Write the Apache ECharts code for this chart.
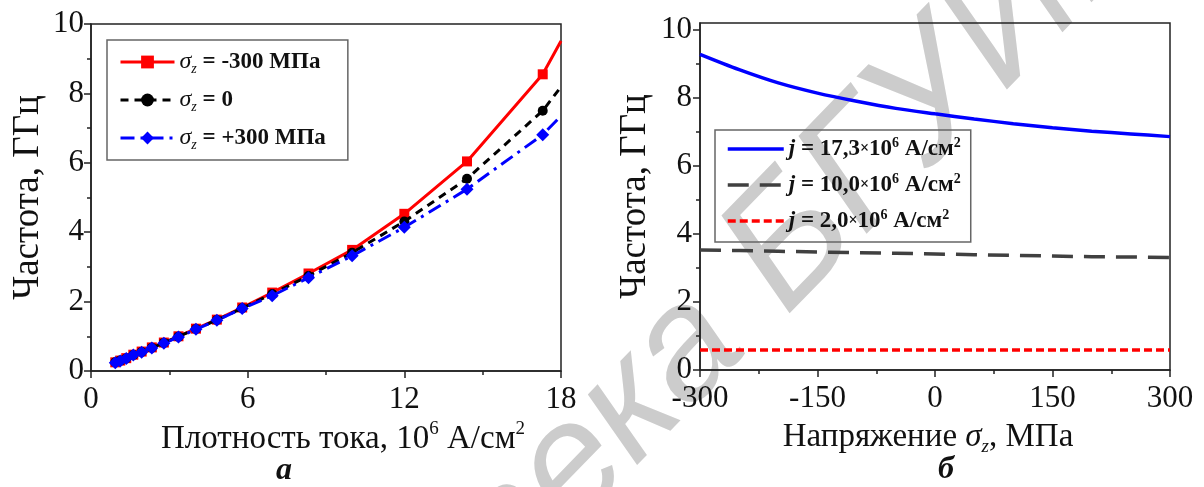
<!DOCTYPE html>
<html>
<head>
<meta charset="utf-8">
<script src="https://cdn.jsdelivr.net/npm/echarts@6/dist/echarts.min.js"></script>
<style>html,body{margin:0;padding:0;background:#fff}#c{width:1204px;height:487px}</style>
</head>
<body>
<div id="c"></div>
<script>
// ---- Panel (a): frequency vs current density ----
const jValues = [0.93, 1.12, 1.35, 1.62, 1.94, 2.33, 2.79, 3.35, 4.02, 4.82, 5.79, 6.94, 8.33, 10.0, 12.0, 14.4, 17.3, 18];
const fMinus300 = [0.25, 0.30, 0.37, 0.47, 0.56, 0.68, 0.82, 1.00, 1.22, 1.48, 1.83, 2.26, 2.81, 3.49, 4.53, 6.04, 8.55, 9.51];
const fZero     = [0.25, 0.30, 0.36, 0.46, 0.55, 0.67, 0.81, 0.99, 1.21, 1.47, 1.81, 2.22, 2.74, 3.41, 4.31, 5.54, 7.50, 8.19];
const fPlus300  = [0.24, 0.29, 0.36, 0.46, 0.54, 0.66, 0.80, 0.98, 1.20, 1.46, 1.80, 2.17, 2.69, 3.32, 4.14, 5.24, 6.81, 7.35];
const namesA = ['σz = -300 МПа', 'σz = 0', 'σz = +300 МПа'];
const legendA = ['-300 МПа', '0', '+300 МПа'];
const xTicksA = [0, 6, 12, 18];

// ---- Panel (б): frequency vs stress ----
const sigmaValues = [-300, -250, -200, -150, -100, -50, 0, 50, 100, 150, 200, 250, 300];
const fJ173 = [9.28, 8.83, 8.44, 8.14, 7.90, 7.69, 7.53, 7.38, 7.24, 7.12, 7.02, 6.94, 6.86];
const fJ100 = [3.53, 3.51, 3.49, 3.47, 3.45, 3.43, 3.41, 3.39, 3.37, 3.35, 3.33, 3.32, 3.31];
const fJ20  = [0.59, 0.59, 0.59, 0.59, 0.59, 0.59, 0.59, 0.59, 0.59, 0.59, 0.59, 0.59, 0.59];
const namesB = ['j = 17,3', 'j = 10,0', 'j = 2,0'];
const legendB = ['17,3', '10,0', '2,0'];
const yTicks = [0, 2, 4, 6, 8, 10];

const SERIF = '"Liberation Serif", "Times New Roman", serif';

function pairs(xs, ys) {
  return xs.map((x, i) => {
    const item = { value: [x, ys[i]] };
    if (x === 18) item.symbol = 'none';
    return item;
  });
}
function pairsPlain(xs, ys) { return xs.map((x, i) => [x, ys[i]]); }

const chart = echarts.init(document.getElementById('c'), null, { renderer: 'canvas' });

const tickLabel = { fontFamily: SERIF, fontSize: 31, color: '#111' };
const axisLine = { onZero: false, lineStyle: { color: '#222', width: 1.5 } };

const legRich = {
  s: { fontFamily: SERIF, fontStyle: 'italic', fontSize: 24, lineHeight: 28, color: '#111' },
  sub: { fontFamily: SERIF, fontStyle: 'italic', fontSize: 14, lineHeight: 28, verticalAlign: 'bottom', padding: [14, 0, 0, 0], color: '#111' },
  b: { fontFamily: SERIF, fontWeight: 'bold', fontSize: 23, lineHeight: 28, color: '#111' },
  j: { fontFamily: SERIF, fontWeight: 'bold', fontStyle: 'italic', fontSize: 23, lineHeight: 26, color: '#111' },
  bb: { fontFamily: SERIF, fontWeight: 'bold', fontSize: 23, lineHeight: 26, color: '#111' },
  x: { fontFamily: SERIF, fontWeight: 'bold', fontSize: 16, lineHeight: 26, color: '#111' },
  sup: { fontFamily: SERIF, fontWeight: 'bold', fontSize: 14, lineHeight: 26, verticalAlign: 'top', padding: [0, 0, 14, 0], color: '#111' }
};

const nameRich = {
  t: { fontFamily: SERIF, fontSize: 33, color: '#111', lineHeight: 38 },
  i: { fontFamily: SERIF, fontStyle: 'italic', fontSize: 33, color: '#111', lineHeight: 38 },
  sub: { fontFamily: SERIF, fontStyle: 'italic', fontSize: 19, color: '#111', lineHeight: 38, verticalAlign: 'bottom', padding: [15, 0, 0, 0] },
  sup: { fontFamily: SERIF, fontSize: 19, color: '#111', lineHeight: 38, verticalAlign: 'top', padding: [0, 0, 15, 0] }
};

const tickStyle = { color: '#222', width: 1.5 };

const option = {
  animation: false,
  backgroundColor: '#fff',
  graphic: [
    { type: 'text', x: 718, y: 318, rotation: 0.8, z: -5, silent: true,
      style: { text: 'Библиотека', font: 'italic 160px "Liberation Sans", sans-serif', fill: '#cccccc', align: 'right', verticalAlign: 'middle' } },
    { type: 'text', x: 752, y: 284, rotation: 0.8, z: -5, silent: true,
      style: { text: 'БГУИР', font: 'italic 170px "Liberation Sans", sans-serif', fill: '#cccccc', align: 'left', verticalAlign: 'middle' } }
  ],
  title: [
    { text: 'a', left: 279, top: 450, textAlign: 'center',
      textStyle: { fontFamily: SERIF, fontStyle: 'italic', fontWeight: 'bold', fontSize: 32, color: '#111' } },
    { text: 'б', left: 941, top: 449, textAlign: 'center',
      textStyle: { fontFamily: SERIF, fontStyle: 'italic', fontWeight: 'bold', fontSize: 32, color: '#111' } }
  ],
  grid: [
    { left: 91, top: 24, width: 470, height: 347, show: true, borderColor: '#222', borderWidth: 1.5, backgroundColor: 'transparent' },
    { left: 700, top: 23, width: 470, height: 347, show: true, borderColor: '#222', borderWidth: 1.5, backgroundColor: 'transparent' }
  ],
  legend: [
    {
      data: namesA, orient: 'vertical', left: 107, top: 40,
      padding: [8, 22, 8, 12], itemGap: 10, itemWidth: 54, itemHeight: 16,
      borderColor: '#666', borderWidth: 1.5, backgroundColor: 'transparent',
      lineStyle: { width: 3 },
      formatter: function (name) { const i = namesA.indexOf(name); return '{s|σ}{sub|z}{b| = ' + legendA[i] + '}'; },
      textStyle: { rich: legRich }
    },
    {
      data: namesB, orient: 'vertical', left: 715, top: 130,
      padding: [6, 10, 6, 11], itemGap: 8, itemWidth: 56, itemHeight: 12,
      borderColor: '#666', borderWidth: 1.5, backgroundColor: 'transparent',
      lineStyle: { width: 3.5 },
      itemStyle: { color: 'rgba(0,0,0,0)', borderWidth: 0, opacity: 0 },
      formatter: function (name) { const i = namesB.indexOf(name); return '{j|j}{bb| = ' + legendB[i] + '}{x|×}{bb|10}{sup|6}{bb| A/см}{sup|2}'; },
      textStyle: { rich: legRich }
    }
  ],
  xAxis: [
    {
      gridIndex: 0, type: 'value', min: 0, max: 18, interval: 6,
      axisLine: axisLine, splitLine: { show: false },
      axisTick: { show: true, length: 7, lineStyle: tickStyle },
      minorTick: { show: true, splitNumber: 2, length: 4, lineStyle: tickStyle },
      axisLabel: Object.assign({ margin: 13, customValues: xTicksA }, tickLabel),
      name: '{t|Плотность тока, 10}{sup|6}{t| А/см}{sup|2}', nameLocation: 'middle', nameGap: 48,
      nameTextStyle: { rich: nameRich, padding: [0, 0, 0, 34] }
    },
    {
      gridIndex: 1, type: 'value', min: -300, max: 300, interval: 150,
      axisLine: axisLine, splitLine: { show: false },
      axisTick: { show: true, length: 7, lineStyle: tickStyle },
      minorTick: { show: true, splitNumber: 2, length: 4, lineStyle: tickStyle },
      axisLabel: Object.assign({ margin: 13 }, tickLabel),
      name: '{t|Напряжение }{i|σ}{sub|z}{t|, МПа}', nameLocation: 'middle', nameGap: 48,
      nameTextStyle: { rich: nameRich, padding: [0, 14, 0, 0] }
    }
  ],
  yAxis: [
    {
      gridIndex: 0, type: 'value', min: 0, max: 10, interval: 2,
      axisLine: axisLine, splitLine: { show: false },
      axisTick: { show: true, length: 7, lineStyle: tickStyle },
      minorTick: { show: true, splitNumber: 2, length: 4, lineStyle: tickStyle },
      axisLabel: Object.assign({ margin: 7 }, tickLabel),
      name: 'Частота, ГГц', nameLocation: 'middle', nameRotate: 90, nameGap: 44,
      nameTextStyle: { fontFamily: SERIF, fontSize: 37, color: '#111' }
    },
    {
      gridIndex: 1, type: 'value', min: 0, max: 10.2, interval: 2,
      axisLine: axisLine, splitLine: { show: false },
      axisTick: { show: true, length: 7, customValues: yTicks, lineStyle: tickStyle },
      minorTick: { show: true, splitNumber: 2, length: 4, lineStyle: tickStyle },
      axisLabel: Object.assign({ margin: 8, customValues: yTicks }, tickLabel),
      name: 'Частота, ГГц', nameLocation: 'middle', nameRotate: 90, nameGap: 46,
      nameTextStyle: { fontFamily: SERIF, fontSize: 37, color: '#111' }
    }
  ],
  series: [
    { name: namesA[0], type: 'line', xAxisIndex: 0, yAxisIndex: 0, data: pairs(jValues, fMinus300),
      symbol: 'rect', symbolSize: 10, color: '#ff0000', lineStyle: { width: 3, color: '#ff0000' }, itemStyle: { color: '#ff0000' }, z: 3 },
    { name: namesA[1], type: 'line', xAxisIndex: 0, yAxisIndex: 0, data: pairs(jValues, fZero),
      symbol: 'circle', symbolSize: 10, color: '#000', lineStyle: { width: 3, color: '#000', type: [8, 6] }, itemStyle: { color: '#000' }, z: 4 },
    { name: namesA[2], type: 'line', xAxisIndex: 0, yAxisIndex: 0, data: pairs(jValues, fPlus300),
      symbol: 'diamond', symbolSize: 13, color: '#0000ff', lineStyle: { width: 3, color: '#0000ff', type: [14, 6, 3, 6] }, itemStyle: { color: '#0000ff' }, z: 5 },
    { name: namesB[0], type: 'line', xAxisIndex: 1, yAxisIndex: 1, data: pairsPlain(sigmaValues, fJ173), smooth: 0.3,
      showSymbol: false, symbol: 'none', color: '#0000ff', lineStyle: { width: 3.5, color: '#0000ff' } },
    { name: namesB[1], type: 'line', xAxisIndex: 1, yAxisIndex: 1, data: pairsPlain(sigmaValues, fJ100),
      showSymbol: false, symbol: 'none', color: '#404040', lineStyle: { width: 3.5, color: '#404040', type: [21, 11] } },
    { name: namesB[2], type: 'line', xAxisIndex: 1, yAxisIndex: 1, data: pairsPlain(sigmaValues, fJ20),
      showSymbol: false, symbol: 'none', color: '#ff0000', lineStyle: { width: 3.5, color: '#ff0000', type: [8, 4] } }
  ]
};
chart.setOption(option);
</script>
</body>
</html>
